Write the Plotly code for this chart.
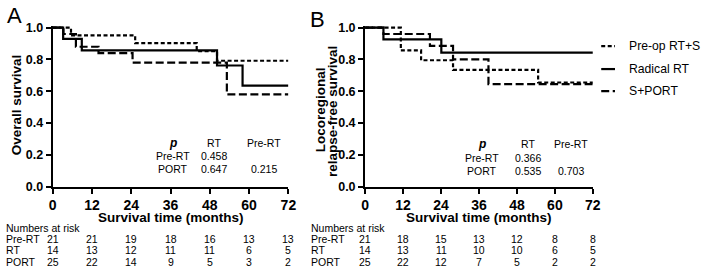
import plotly.graph_objects as go

W, H = 709, 274
FONT = "Liberation Sans, Arial, sans-serif"

month_ticks = [0, 12, 24, 36, 48, 60, 72]
surv_ticks = [0.0, 0.2, 0.4, 0.6, 0.8, 1.0]

# ---- Panel A: overall survival (step curves) ----
a_pre_t = [0, 5.6, 25.2, 44.0, 50.2, 72]
a_pre_s = [1.0, 0.952, 0.903, 0.852, 0.792, 0.792]
a_rt_t = [0, 3.2, 8.9, 50.2, 58.0, 72]
a_rt_s = [1.0, 0.929, 0.857, 0.762, 0.635, 0.635]
a_port_t = [0, 3.3, 7.1, 14.0, 24.4, 53.2, 72]
a_port_s = [1.0, 0.96, 0.88, 0.84, 0.78, 0.58, 0.58]

# ---- Panel B: locoregional relapse-free survival ----
b_pre_t = [0, 11.3, 17.7, 27.8, 54.7, 72]
b_pre_s = [1.0, 0.857, 0.795, 0.735, 0.655, 0.655]
b_rt_t = [0, 5.8, 24.1, 72]
b_rt_s = [1.0, 0.926, 0.843, 0.843]
b_port_t = [0, 5.8, 20.5, 27.8, 39.0, 72]
b_port_s = [1.0, 0.96, 0.885, 0.80, 0.645, 0.645]

# ---- Numbers at risk ----
risk_groups = ["Pre-RT", "RT", "PORT"]
a_risk = [[21, 21, 19, 18, 16, 13, 13],
          [14, 13, 12, 11, 11, 6, 5],
          [25, 22, 14, 9, 5, 3, 2]]
b_risk = [[21, 18, 15, 13, 12, 8, 8],
          [14, 13, 11, 10, 10, 6, 5],
          [25, 22, 12, 7, 5, 2, 2]]

# ---- p-value tables ----
p_cols = ["RT", "Pre-RT"]
p_rows = ["Pre-RT", "PORT"]
a_p = [["0.458", ""], ["0.647", "0.215"]]
b_p = [["0.366", ""], ["0.535", "0.703"]]

legend_names = ["Pre-op RT+S", "Radical RT", "S+PORT"]

DASH_PRE = "4px,2.5px"
DASH_PORT = "8px,3.5px"
LW = 2.2


def px(x):
    return x / W


def py(y):
    return 1 - y / H


fig = go.Figure()
series = [
    ("x", "y", a_pre_t, a_pre_s, DASH_PRE),
    ("x", "y", a_rt_t, a_rt_s, "solid"),
    ("x", "y", a_port_t, a_port_s, DASH_PORT),
    ("x2", "y2", b_pre_t, b_pre_s, DASH_PRE),
    ("x2", "y2", b_rt_t, b_rt_s, "solid"),
    ("x2", "y2", b_port_t, b_port_s, DASH_PORT),
]
for xa, ya, t, s, dash in series:
    fig.add_trace(go.Scatter(x=t, y=s, xaxis=xa, yaxis=ya, mode="lines",
                             line=dict(shape="hv", color="black", width=LW, dash=dash),
                             showlegend=False, hoverinfo="skip"))

# axes geometry (pixels)
ax_top, ax_bot = 23.7, 190.0
per_unit = ax_bot - ax_top
ymax = 1.01
ydom = [py(ax_bot), py(ax_bot - ymax * per_unit)]

common_x = dict(range=[0, 72], tickvals=month_ticks, ticks="outside", ticklen=5, tickwidth=2,
                tickcolor="black", showline=True, linewidth=2, linecolor="black",
                showgrid=False, zeroline=False,
                tickfont=dict(family=FONT, size=14, color="black", weight="bold"))
common_y = dict(range=[0, ymax], tickvals=surv_ticks, tickformat=".1f", ticks="outside",
                ticklen=5, tickwidth=2, tickcolor="black", showline=True, linewidth=2,
                linecolor="black", showgrid=False, zeroline=False, domain=ydom,
                tickfont=dict(family=FONT, size=12.5, color="black", weight="bold"))

fig.update_layout(
    width=W, height=H, margin=dict(l=0, r=0, t=0, b=0),
    paper_bgcolor="white", plot_bgcolor="white",
    xaxis=dict(domain=[px(49.5), px(289.3)], anchor="y", **common_x),
    yaxis=dict(anchor="x", **common_y),
    xaxis2=dict(domain=[px(367.3), px(599.0)], anchor="y2", **common_x),
    yaxis2=dict(anchor="x2", **common_y),
)

ann = []


def text(x, y, s, size, xanchor="center", bold=False, italic=False, angle=0, xref="paper"):
    ann.append(dict(x=x, y=py(y), xref=xref, yref="paper", text=s, showarrow=False,
                    xanchor=xanchor, yanchor="middle", textangle=angle,
                    font=dict(family=FONT, size=size, color="black",
                              weight="bold" if bold else "normal",
                              style="italic" if italic else "normal")))


# panel letters
text(px(1), 10.5, "A", 22, xanchor="left")
text(px(309), 15, "B", 22, xanchor="left")

# y titles
text(px(13), 104, "Overall survival", 13.5, bold=True, angle=-90)
text(px(321.5), 110, "Locoregional", 13.5, bold=True, angle=-90)
text(px(333.5), 111, "relapse-free survival", 13.5, bold=True, angle=-90)

# x titles
text(px(169.4), 222.5, "Survival time (months)", 13.5, bold=True)
text(px(483.2), 222.5, "Survival time (months)", 13.5, bold=True)

# p tables
for (cx, tbl, ys, colx) in [(172, a_p, (144, 158, 172), (213.5, 264.5)),
                             (486, b_p, (145, 160, 174), (533.3, 577))]:
    text(px(cx), ys[0], "p", 12, bold=True, italic=True)
    for j, c in enumerate(p_cols):
        text(px(colx[j]), ys[0], c, 10.5)
    for i, r in enumerate(p_rows):
        text(px(cx), ys[i + 1], r, 10.5)
        for j in range(len(p_cols)):
            if tbl[i][j]:
                text(px(colx[j]), ys[i + 1], tbl[i][j], 10.5)

# numbers at risk
row_y = [244.3, 256.3, 268.3]
for (lx, xr, risk) in [(0, "x", a_risk), (310, "x2", b_risk)]:
    text(px(lx), 232.7, "Numbers at risk", 10.5, xanchor="left")
    for i, g in enumerate(risk_groups):
        text(px(lx), row_y[i], g, 10.5, xanchor="left")
        for m, n in zip(month_ticks, risk[i]):
            text(m, row_y[i], str(n), 10.5, xref=xr)

# legend (manual)
leg_y = [43, 67, 90]
leg_dash = [DASH_PRE, "solid", DASH_PORT]
shapes = []
for yy, nm, d in zip(leg_y, legend_names, leg_dash):
    shapes.append(dict(type="line", xref="paper", yref="paper", x0=px(607.5), x1=px(621.5),
                       y0=py(yy), y1=py(yy), line=dict(color="black", width=LW, dash=d)))
    text(px(633.5), yy, nm, 12.2, xanchor="left")

fig.update_layout(annotations=ann, shapes=shapes)
fig.write_html("out.html", config={"displayModeBar": False},
               post_script="document.body.style.margin='0';document.body.style.overflow='hidden';")
